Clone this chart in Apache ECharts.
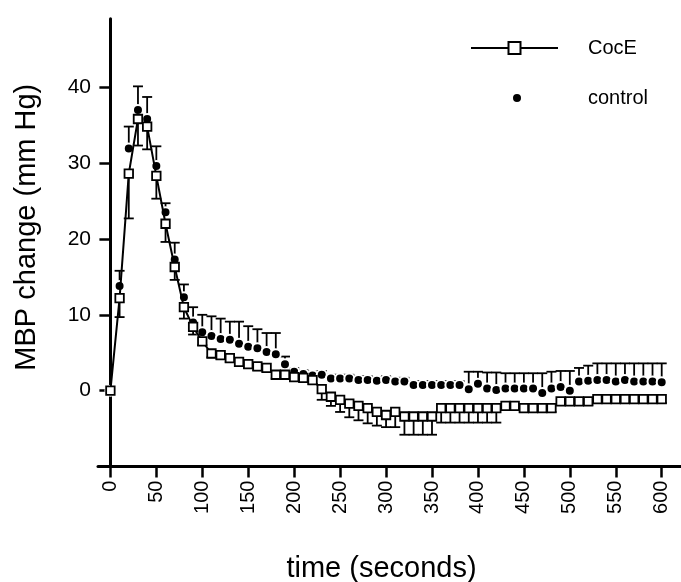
<!DOCTYPE html>
<html>
<head>
<meta charset="utf-8">
<script src="https://cdn.jsdelivr.net/npm/echarts@6/dist/echarts.min.js"></script>
<style>html,body{margin:0;padding:0;background:#fff}#c{width:681px;height:582px}</style>
</head>
<body>
<div id="c"></div>
<script>
var times = [0,10,20,30,40,50,60,70,80,90,100,110,120,130,140,150,160,170,180,190,200,210,220,230,240,250,260,270,280,290,300,310,320,330,340,350,360,370,380,390,400,410,420,430,440,450,460,470,480,490,500,510,520,530,540,550,560,570,580,590,600];
var coceValues = [0,12.2,28.6,35.8,34.8,28.3,22.0,16.3,11.0,8.4,6.5,4.9,4.7,4.3,3.8,3.5,3.2,3.0,2.1,2.1,1.8,1.7,1.4,0.2,-0.8,-1.2,-1.7,-2.0,-2.3,-2.8,-3.2,-2.8,-3.4,-3.4,-3.4,-3.4,-2.3,-2.3,-2.3,-2.3,-2.3,-2.3,-2.3,-2.0,-2.0,-2.3,-2.3,-2.3,-2.3,-1.4,-1.4,-1.4,-1.4,-1.1,-1.1,-1.1,-1.1,-1.1,-1.1,-1.1,-1.1];
var coceErr = [0,2.5,5.9,3.5,3.0,3.0,2.4,1.7,1.5,1.0,0.5,0.5,0.5,0.5,0.5,0.5,0.5,0.5,0.5,0.5,0.5,0.5,0.5,1.4,1.2,1.6,1.8,1.9,2.0,1.8,1.6,2.0,2.4,2.4,2.4,2.4,1.9,1.9,1.9,1.9,1.9,1.9,1.9,0.5,0.5,0.5,0.5,0.5,0.5,0.5,0.5,0.5,0.5,0.5,0.5,0.5,0.5,0.5,0.5,0.5,0.5];
var controlValues = [0,13.8,31.9,37.0,35.8,29.6,23.5,17.3,12.3,9.0,7.7,7.2,6.8,6.7,6.2,5.8,5.6,5.1,4.8,3.5,2.5,2.2,2.0,2.1,1.6,1.6,1.6,1.4,1.4,1.3,1.4,1.2,1.2,0.75,0.75,0.75,0.75,0.75,0.75,0.2,0.9,0.3,0.1,0.3,0.3,0.3,0.3,-0.3,0.3,0.5,0.0,1.2,1.3,1.4,1.4,1.2,1.4,1.2,1.2,1.2,1.1];
var controlErr = [0,2.0,2.9,3.1,2.9,2.6,1.2,2.2,1.7,2.0,2.3,2.6,2.7,2.4,2.9,2.7,2.5,2.5,2.8,1.0,0.5,0.5,0.5,0.5,0.5,0.5,0.5,0.5,0.5,0.5,0.5,0.5,0.5,0.5,0.5,0.5,0.5,0.5,0.5,2.3,1.6,2.1,2.3,2.0,2.0,2.0,2.0,2.6,2.2,2.1,2.6,1.8,2.0,2.2,2.2,2.4,2.2,2.4,2.4,2.4,2.5];
var xTicks = [0,50,100,150,200,250,300,350,400,450,500,550,600];
var yTicks = [0,10,20,30,40];

var FONT = '"Liberation Sans", Arial, Helvetica, sans-serif';

function errRender(dir) {
  return function (params, api) {
    var x = api.value(0), y = api.value(1), e = api.value(2);
    var p0 = api.coord([x, y]);
    var p1 = api.coord([x, y + dir * e]);
    var hw = 5;
    var st = {stroke: '#000', lineWidth: 1.8};
    return {type: 'group', children: [
      {type: 'line', shape: {x1: p0[0], y1: p0[1], x2: p1[0], y2: p1[1]}, style: st},
      {type: 'line', shape: {x1: p1[0] - hw, y1: p1[1], x2: p1[0] + hw, y2: p1[1]}, style: st}
    ]};
  };
}

var coceData = times.map(function (t, i) { return [t, coceValues[i]]; });
var controlData = times.map(function (t, i) { return [t, controlValues[i]]; });
var coceErrData = [], controlErrData = [];
times.forEach(function (t, i) {
  if (coceErr[i] > 0) coceErrData.push([t, coceValues[i], coceErr[i]]);
  if (controlErr[i] > 0) controlErrData.push([t, controlValues[i], controlErr[i]]);
});

var chart = echarts.init(document.getElementById('c'), null, {renderer: 'canvas'});
chart.setOption({
  animation: false,
  backgroundColor: '#fff',
  textStyle: {fontFamily: FONT, color: '#000'},
  grid: {left: 98, right: 0, top: 18.8, bottom: 115.4, containLabel: false, outerBoundsMode: 'none'},
  legend: [
    {
      data: ['CocE'], left: 470, top: 38, padding: 0,
      itemWidth: 87, itemHeight: 15,
      textStyle: {fontFamily: FONT, fontSize: 20, color: '#000', padding: [0, 0, 0, 25]}
    },
    {
      data: ['control'], left: 511, top: 88, padding: 0,
      itemWidth: 10, itemHeight: 10,
      textStyle: {fontFamily: FONT, fontSize: 20, color: '#000', padding: [0, 0, 0, 61]}
    }
  ],
  xAxis: {
    type: 'value', min: -13.5, max: 621,
    name: 'time (seconds)', nameLocation: 'middle', nameGap: 88,
    nameTextStyle: {fontFamily: FONT, fontSize: 29, color: '#000', padding: [0, 16, 0, 0]},
    axisLine: {onZero: false, lineStyle: {color: '#000', width: 3}},
    axisTick: {show: true, length: 11, lineStyle: {color: '#000', width: 2.5}, customValues: xTicks},
    axisLabel: {rotate: 90, margin: 14, fontFamily: FONT, fontSize: 20, color: '#000', customValues: xTicks},
    splitLine: {show: false}
  },
  yAxis: {
    type: 'value', min: -10, max: 49,
    name: 'MBP change (mm Hg)', nameLocation: 'middle', nameGap: 57,
    nameTextStyle: {fontFamily: FONT, fontSize: 29, color: '#000', padding: [0, 0, 0, 31]},
    axisLine: {onZero: true, lineStyle: {color: '#000', width: 3}},
    axisTick: {show: true, length: 11, lineStyle: {color: '#000', width: 2.5}, customValues: yTicks},
    axisLabel: {margin: 7, fontFamily: FONT, fontSize: 21, color: '#000', customValues: yTicks},
    splitLine: {show: false}
  },
  series: [
    {
      name: 'controlErr', type: 'custom', renderItem: errRender(1), data: controlErrData, z: 1, silent: true
    },
    {
      name: 'coceErr', type: 'custom', renderItem: errRender(-1), data: coceErrData, z: 1, silent: true
    },
    {
      name: 'control', type: 'scatter', data: controlData, z: 2,
      symbol: 'circle', symbolSize: 10,
      itemStyle: {color: '#000', borderColor: '#fff', borderWidth: 2, opacity: 1}
    },
    {
      name: 'CocE', type: 'line', data: coceData, z: 3,
      symbol: 'rect', symbolSize: 8.5, showAllSymbol: true,
      lineStyle: {color: '#000', width: 2},
      itemStyle: {color: '#fff', borderColor: '#000', borderWidth: 1.8}
    }
  ]
});
</script>
</body>
</html>
